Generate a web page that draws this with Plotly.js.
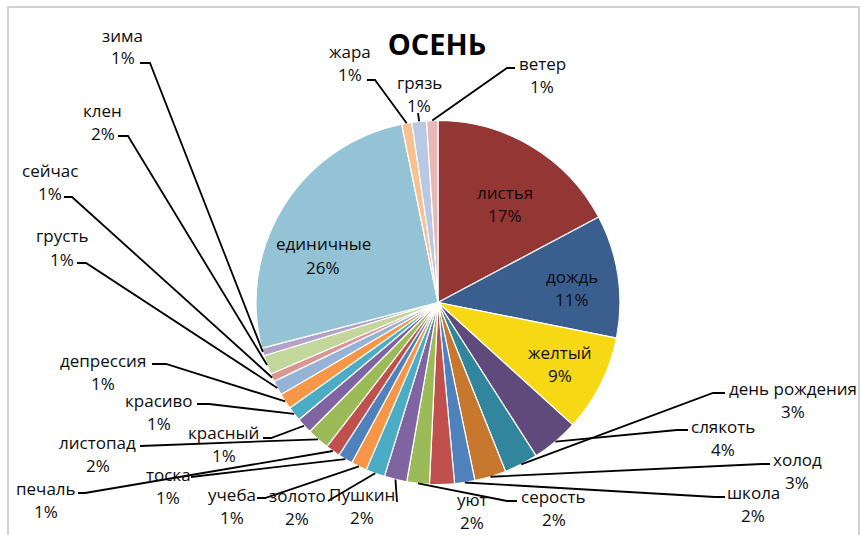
<!DOCTYPE html>
<html><head><meta charset="utf-8">
<script src="https://cdn.plot.ly/plotly-3.0.1.min.js"></script>
<style>html,body{margin:0;padding:0;background:#fff}#chart{width:862px;height:535px}</style>
</head><body><div id="chart"></div>
<script>
// ---- data (clockwise from 12 o'clock) ----
const categories = ["листья","дождь","желтый","слякоть","день рождения","холод","школа","уют","серость","Пушкин","золото","учеба","тоска","печаль","листопад","красный","красиво","депрессия","грусть","сейчас","клен","зима","единичные","жара","грязь","ветер"];
const values = [17.2,10.9,8.6,4.2,3.0,2.8,1.8,2.2,2.0,2.0,1.7,1.4,1.3,1.3,2.0,1.4,1.3,1.4,1.3,0.7,1.7,0.7,25.8,0.9,1.3,1.0];
const sliceColors = ["#943634","#3A5F8F","#F6D914","#604A7B","#31859C","#C8772F","#4F81BD","#C0504D","#9BBB59","#8064A2","#4BACC6","#F79646","#4F81BD","#C0504D","#9BBB59","#8064A2","#4BACC6","#F79646","#95B3D7","#D99694","#C3D69B","#B3A2C7","#93C3D5","#FAC090","#B9C9E4","#E6B9B8"];

// ---- layout constants (pixels) ----
const W = 862, H = 535;
const CX = 438, CY = 302.5, R = 182;
const FONT = '"Open Sans", "Noto Sans", sans-serif';
const GAP = 11.5; // half distance between name line and percent line
// label block centres and leader-line start points, same order as categories
const labelPos = [
  {c:[505,204], inside:true},
  {c:[572,288], inside:true},
  {c:[560,364], inside:true},
  {c:[723,437.5], s:[[688,430],[677,430]]},
  {c:[793,399.5], s:[[725,393],[713,393]]},
  {c:[797,470.5], s:[[770,464],[762,464]]},
  {c:[753,504], s:[[725,497],[715,497]]},
  {c:[472,510.5]},
  {c:[553.5,507.5], s:[[517,501],[507,501]]},
  {c:[362,505.5], s:[[397,502]]},
  {c:[297,506.5], s:[[328,501]]},
  {c:[232.5,506], s:[[257,498],[265,498]]},
  {c:[168,486], s:[[191,477]]},
  {c:[46,500], s:[[78,493],[85,493]]},
  {c:[97.5,454], s:[[140,446]]},
  {c:[223.5,444], s:[[263,438],[271,438]]},
  {c:[158.5,411.5], s:[[197,404],[209,404]]},
  {c:[103,372], s:[[152,364],[166,364]]},
  {c:[62,247.5], s:[[77,263],[86,263]]},
  {c:[49.5,181.5], s:[[64,197],[72,197]]},
  {c:[102.5,121.5], s:[[118,136],[128,136]]},
  {c:[123,46.5], s:[[140,63],[150,63]]},
  {c:[323,255.5], inside:true},
  {c:[350,62.5], s:[[367,80],[375,80]]},
  {c:[419,94], s:[[418,113]]},
  {c:[542,75.5], s:[[515,68],[507,68]]}
];

const fx = p => p / W;
const fy = p => 1 - p / H;

const total = values.reduce((a, b) => a + b, 0);
let cum = 0;
const tips = values.map(v => {
  const mid = (cum + v / 2) / total * 2 * Math.PI;
  cum += v;
  return [CX + R * Math.sin(mid), CY - R * Math.cos(mid)];
});

const annotations = [];
const shapes = [];
const txt = (x, y, t) => ({
  x: fx(x), y: fy(y), xref: 'paper', yref: 'paper', text: t, showarrow: false,
  xanchor: 'center', yanchor: 'middle', align: 'center',
  font: {family: FONT, size: 17, color: '#0d0d0d'}
});
categories.forEach((name, i) => {
  const pct = Math.round(values[i] / total * 100) + '%';
  const lp = labelPos[i];
  annotations.push(txt(lp.c[0], lp.c[1] - GAP, name));
  annotations.push(txt(lp.c[0], lp.c[1] + GAP, pct));
  if (lp.s) {
    const pts = lp.s.concat([tips[i]]);
    shapes.push({
      type: 'path', xref: 'paper', yref: 'paper',
      path: 'M ' + pts.map(p => fx(p[0]).toFixed(5) + ',' + fy(p[1]).toFixed(5)).join(' L '),
      line: {color: '#000', width: 1.8}
    });
  }
});

// chart border
shapes.push({type: 'rect', xref: 'paper', yref: 'paper', x0: fx(8), x1: fx(859), y0: -0.05, y1: fy(7),
  line: {color: '#C4C4C4', width: 1.5}, layer: 'below'});

const trace = {
  type: 'pie',
  labels: categories,
  values: values,
  sort: false,
  direction: 'clockwise',
  rotation: 0,
  textinfo: 'none',
  hoverinfo: 'label+percent',
  marker: {colors: sliceColors, line: {color: '#FFFFFF', width: 1.2}},
  domain: {x: [fx(CX - R), fx(CX + R)], y: [fy(CY + R), fy(CY - R)]},
  showlegend: false
};

const layout = {
  width: W, height: H,
  margin: {l: 0, r: 0, t: 0, b: 0},
  paper_bgcolor: '#FFFFFF',
  title: {text: '<b>ОСЕНЬ</b>', x: fx(437), xanchor: 'center', y: fy(45), yanchor: 'middle',
    font: {family: FONT, size: 29, color: '#000'}},
  annotations: annotations,
  shapes: shapes,
  showlegend: false
};

Plotly.newPlot('chart', [trace], layout, {displayModeBar: false, staticPlot: true});
</script>
</body></html>
